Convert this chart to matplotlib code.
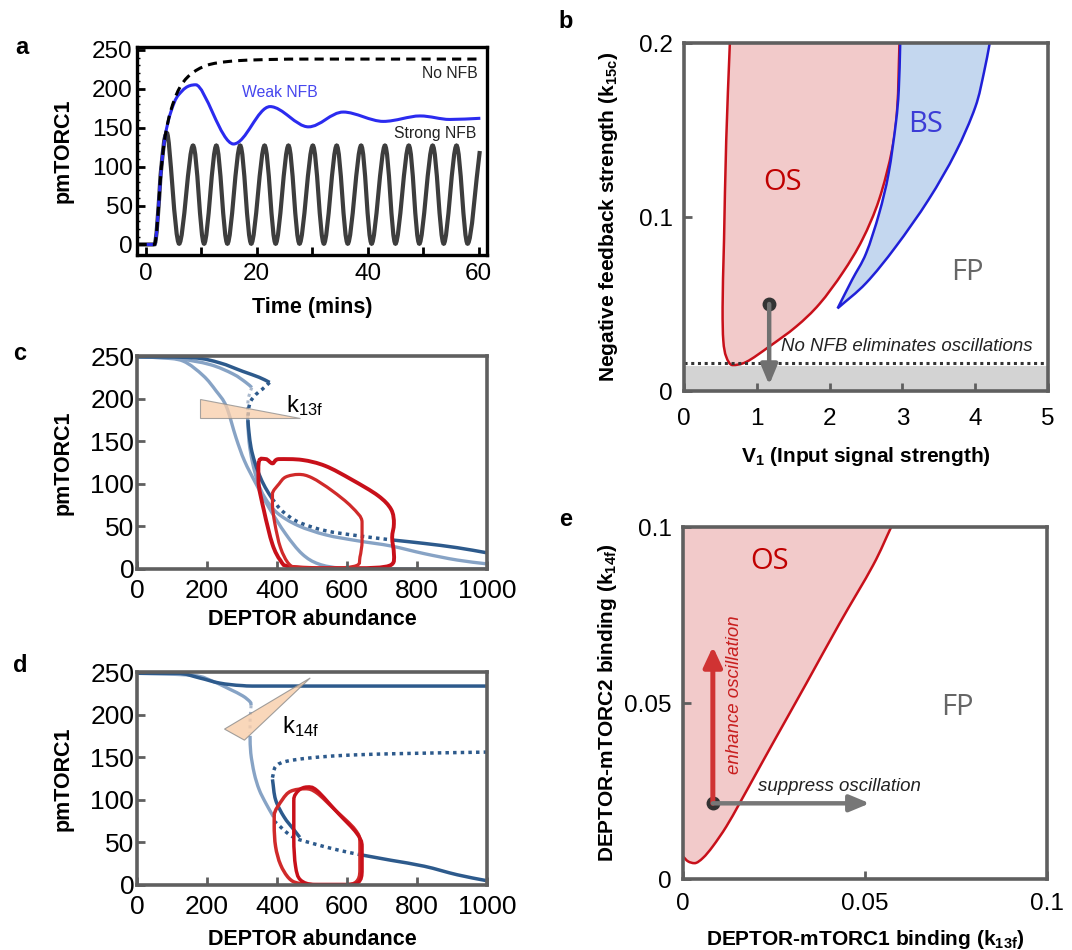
import numpy as np
import matplotlib
matplotlib.use('Agg')
import matplotlib.pyplot as plt
from matplotlib.path import Path
from matplotlib.patches import PathPatch, Polygon
from matplotlib import font_manager

plt.rcParams['font.family'] = 'Liberation Sans'
plt.rcParams['mathtext.fontset'] = 'custom'
plt.rcParams['mathtext.rm'] = 'Liberation Sans'
plt.rcParams['mathtext.it'] = 'Liberation Sans:italic'
plt.rcParams['mathtext.bf'] = 'Liberation Sans:bold'

names = {f.name for f in font_manager.fontManager.ttflist}
NARROW = 'Liberation Sans Narrow' if 'Liberation Sans Narrow' in names else 'Liberation Sans'
NS = 1.0 if NARROW == 'Liberation Sans Narrow' else 0.84

# ---------------- panel a : time courses
strong_t = [-1.5, 1.2, 1.8, 2.3, 2.8, 3.8, 6.0, 8.5, 10.5, 12.7, 14.7, 17.0, 19.0, 21.4, 23.4, 25.7,
            27.7, 30.1, 32.1, 34.4, 36.4, 38.8, 40.7, 43.1, 45.0, 47.4, 49.3, 51.7, 53.7, 56.0, 58.0, 60.2]
strong_y = [0, 0, 8, 50, 100, 143, 1, 127, 1, 127, 1, 127, 1, 127, 1, 127,
            1, 127, 1, 127, 1, 127, 1, 127, 1, 127, 1, 127, 1, 127, 1, 120]
weak_t = [-1.5, 1.2, 1.8, 2.3, 2.8, 3.5, 4.5, 6.0, 9.0, 15.8, 22.4, 29.3, 35.6, 42.8, 49.4, 54.8, 60.3]
weak_y = [0, 0, 8, 50, 100, 140, 170, 193, 205, 129, 177, 151, 170, 158, 165, 160.5, 162]
nonfb_t = [-1.5, 1.2, 1.8, 2.3, 2.8, 3.5, 4.5, 6.0, 8.0, 11.0, 15.0, 20.0, 30.0, 60.3]
nonfb_y = [0, 0, 8, 50, 100, 140, 172, 200, 218, 230, 235, 237, 238, 238]

# ---------------- panel c : bifurcation vs DEPTOR (k13f)
c_dark_up_x = [0, 160, 236, 302, 349, 379]
c_dark_up_y = [249, 248, 242, 232, 225, 219]
c_dark_fold_x = [379, 358, 340, 325, 319, 317]
c_dark_fold_y = [219, 211, 205, 197, 188, 174]
c_dark_mid_x = [317, 320, 326, 336, 349, 366, 387]
c_dark_mid_y = [174, 160, 142, 126, 111, 96, 82]
c_dark_hopf_x = [387, 415, 462, 538, 632, 731]
c_dark_hopf_y = [82, 68, 55, 45, 39, 34]
c_dark_tail_x = [731, 821, 915, 1000]
c_dark_tail_y = [34, 30, 25, 19]
c_light_up_x = [0, 113, 208, 274, 311, 328]
c_light_up_y = [249, 247, 240, 229, 219, 213]
c_light_fold_x = [328, 319, 316, 316]
c_light_fold_y = [213, 202, 189, 178]
c_light_low_x = [316, 320, 330, 345, 365, 400, 460, 540, 632, 726, 821, 915, 1000]
c_light_low_y = [178, 150, 125, 102, 84, 66, 51, 40, 33, 27, 18, 10.5, 6]
c_mono_x = [0, 66, 132, 189, 226, 255, 283, 307, 340, 377, 425, 472, 519, 585, 700, 1000]
c_mono_y = [249, 248, 244, 227, 209, 191, 154, 127, 100, 72, 41, 17.6, 5.9, 1, 0.3, 0]
c_outer_x = [349, 368, 387, 406, 472, 538, 613, 689, 726, 734, 729, 734, 722, 632, 538, 434, 410, 387, 363, 347]
c_outer_y = [127, 129, 124, 129, 128, 121, 105, 86, 70, 53, 37, 18, 4, 1, 1, 3, 10, 29, 68, 104]
c_inner_x = [387, 406, 425, 462, 500, 557, 613, 643, 643, 637, 627, 557, 462, 434, 410, 394, 387]
c_inner_y = [88, 100, 108, 111, 107, 92, 73, 55, 33, 14, 4, 1, 2, 6, 25, 53, 76]
c_wedge_x = [179, 179, 467]
c_wedge_y = [199, 177, 177]

# ---------------- panel d : bifurcation vs DEPTOR (k14f)
d_dark_up_x = [0, 113, 179, 236, 302, 396, 1000]
d_dark_up_y = [248.5, 248.5, 243, 237, 234, 233.5, 233.5]
d_light_up_x = [0, 160, 217, 264, 302, 323, 326]
d_light_up_y = [248.5, 246, 239, 230, 222, 215, 211]
d_light_fold_x = [326, 324, 323, 323]
d_light_fold_y = [211, 200, 190, 179]
d_light_low_x = [323, 325, 335, 349, 368, 390]
d_light_low_y = [175, 155, 131, 112, 96, 80]
d_unst_x = [387, 396, 425, 491, 585, 726, 1000]
d_unst_y = [126, 139, 145, 149, 152, 154, 156]
d_dark_low_x = [387, 396, 420, 448, 465]
d_dark_low_y = [124, 100, 80, 65, 56]
d_hopf_x = [392, 443, 500, 575, 632]
d_hopf_y = [75, 57, 49, 41, 36]
d_tail_x = [632, 726, 821, 915, 1000]
d_tail_y = [36, 29, 22, 12, 5]
d_loopA_x = [392, 415, 439, 481, 514, 566, 623, 637, 637, 627, 594, 519, 462, 434, 410, 396, 392]
d_loopA_y = [82, 100, 110, 113, 108, 88, 65, 49, 18, 4, 0.5, 0.5, 2, 8, 24, 45, 69]
d_loopB_x = [448, 462, 486, 514, 575, 627, 643, 643, 632, 585, 509, 467, 453, 448, 448]
d_loopB_y = [100, 111, 115, 111, 84, 61, 45, 18, 3, 0.5, 0.5, 6, 22, 53, 80]
d_wedge_x = [250, 495, 307]
d_wedge_y = [183, 243, 170]

# ---------------- panel b : V1 vs k15c
os_b_x = [0.63, 0.58, 0.55, 0.53, 0.54, 0.58, 0.67, 0.86, 1.17, 1.54, 1.86, 2.18, 2.45, 2.68, 2.86, 2.93, 2.96]
os_b_y = [0.2, 0.144, 0.087, 0.048, 0.029, 0.0197, 0.0149, 0.0168, 0.0255, 0.037, 0.050, 0.068, 0.087, 0.110, 0.139, 0.163, 0.2]
bs_left_x = [2.97, 2.95, 2.91, 2.81, 2.68, 2.50, 2.31, 2.11]
bs_left_y = [0.2, 0.173, 0.154, 0.125, 0.102, 0.079, 0.064, 0.0475]
bs_right_x = [2.11, 2.50, 2.91, 3.36, 3.73, 4.0, 4.12, 4.2]
bs_right_y = [0.0475, 0.062, 0.083, 0.110, 0.137, 0.163, 0.183, 0.2]
nfb_band = 0.0145
nfb_line = 0.0161
b_dot = (1.17, 0.050)
b_arrow_end = 0.0035

# ---------------- panel e : k13f vs k14f
os_e_x = [0, 0.0014, 0.0032, 0.0055, 0.0082, 0.0119, 0.0156, 0.0201, 0.0247, 0.0339, 0.043, 0.0522, 0.0572]
os_e_y = [0.0064, 0.005, 0.0045, 0.006, 0.0093, 0.0149, 0.0216, 0.030, 0.0386, 0.0556, 0.0726, 0.0891, 0.1]
e_dot = (0.0082, 0.0215)
e_up_end = 0.066
e_right_end = 0.0513

DARK = '#2d5a8c'
LIGHT = '#87a3c5'
FAINT = '#a9b8cc'
RED = '#c8101a'
RED2 = '#d02a2a'
FRAME = '#5f5f5f'
DOT = (0, (1, 1.2))

W, H = 1072, 950


def box(l, t, r, b):
    return [l / W, 1 - b / H, (r - l) / W, (b - t) / H]


def bez(xs, ys, closed=False):
    p = np.column_stack([xs, ys]).astype(float)
    n = len(p)
    t = np.zeros_like(p)
    for i in range(n):
        if closed:
            a, b = p[i - 1], p[(i + 1) % n]
        else:
            a, b = p[max(i - 1, 0)], p[min(i + 1, n - 1)]
        if closed or 0 < i < n - 1:
            t[i] = (b - a) / 2
            for k in range(2):
                if (p[i, k] - a[k]) * (b[k] - p[i, k]) <= 0:
                    t[i, k] = 0
        else:
            t[i] = b - a
    verts = [p[0]]
    codes = [Path.MOVETO]
    for i in range(n if closed else n - 1):
        j = (i + 1) % n
        verts += [p[i] + t[i] / 3, p[j] - t[j] / 3, p[j]]
        codes += [Path.CURVE4] * 3
    return verts, codes


def curve(ax, xs, ys, closed=False, **kw):
    v, c = bez(xs, ys, closed)
    kw.setdefault('capstyle', 'butt')
    ax.add_patch(PathPatch(Path(v, c), fill=False, **kw))


def frame(ax, color, lw, size):
    for s in ax.spines.values():
        s.set_color(color)
        s.set_linewidth(lw)
    ax.tick_params(which='both', direction='in', color=color, width=2, length=6,
                   labelsize=size, labelcolor='black')


fig = plt.figure(figsize=(W / 100, H / 100), dpi=100)

# ================= panel a
ax = fig.add_axes(box(137, 47, 487, 255))
ax.set_xlim(-1.6, 61.5)
ax.set_ylim(-13.5, 253.5)
curve(ax, strong_t, strong_y, edgecolor='#3d3d3d', lw=3.0)
curve(ax, weak_t, weak_y, edgecolor='#2b2bef', lw=2.2)
curve(ax, nonfb_t, nonfb_y, edgecolor='black', lw=2.2, linestyle=(0, (3, 2)))
ax.text(54.8, 220, 'No NFB', ha='center', va='center', fontsize=13.5 * NS, family=NARROW, color='#222')
ax.text(24.2, 195, 'Weak NFB', ha='center', va='center', fontsize=13.5 * NS, family=NARROW, color='#4646ee')
ax.text(52.1, 142, 'Strong NFB', ha='center', va='center', fontsize=13.5 * NS, family=NARROW, color='#222')
ax.set_xticks([0, 20, 40, 60])
ax.set_xticks([10, 30, 50], minor=True)
ax.set_yticks([0, 50, 100, 150, 200, 250])
ax.set_yticks(np.arange(10, 250, 10), minor=True)
frame(ax, 'black', 2.4, 17.5)
ax.tick_params(axis='y', which='minor', length=2, width=1)
ax.tick_params(axis='x', pad=6)
ax.tick_params(axis='y', pad=3)
ax.set_xlabel('Time (mins)', fontsize=15.5, fontweight='bold')
ax.set_ylabel('pmTORC1', fontsize=15.5, fontweight='bold')
ax.xaxis.set_label_coords(0.5, -0.2)
ax.yaxis.set_label_coords(-0.18, 0.5)

# ================= panels c and d
for top, bottom, xl in [(356, 569, -0.188), (672, 885, -0.205)]:
    axx = fig.add_axes(box(137, top, 487, bottom))
    axx.set_xlim(0, 1000)
    axx.set_ylim(0, 250)
    axx.set_xticks([0, 200, 400, 600, 800, 1000])
    axx.set_yticks([0, 50, 100, 150, 200, 250])
    frame(axx, FRAME, 2.6, 19)
    axx.tick_params(axis='x', pad=7)
    axx.tick_params(axis='y', pad=2)
    axx.set_xlabel('DEPTOR abundance', fontsize=15.5, fontweight='bold')
    axx.set_ylabel('pmTORC1', fontsize=15.5, fontweight='bold')
    axx.xaxis.set_label_coords(0.5, xl)
    axx.yaxis.set_label_coords(-0.18, 0.5)
    if top == 356:
        ax_c = axx
    else:
        ax_d = axx

ax = ax_c
curve(ax, c_mono_x, c_mono_y, edgecolor=LIGHT, lw=2.4)
curve(ax, c_light_up_x, c_light_up_y, edgecolor=LIGHT, lw=2.4)
curve(ax, c_light_fold_x, c_light_fold_y, edgecolor=FAINT, lw=2.2, linestyle=DOT)
curve(ax, c_light_low_x, c_light_low_y, edgecolor=LIGHT, lw=2.4)
curve(ax, c_dark_up_x, c_dark_up_y, edgecolor=DARK, lw=2.5)
curve(ax, c_dark_fold_x, c_dark_fold_y, edgecolor=DARK, lw=2.5, linestyle=DOT)
curve(ax, c_dark_mid_x, c_dark_mid_y, edgecolor=DARK, lw=2.5)
curve(ax, c_dark_hopf_x, c_dark_hopf_y, edgecolor=DARK, lw=2.5, linestyle=DOT)
curve(ax, c_dark_tail_x, c_dark_tail_y, edgecolor=DARK, lw=2.5)
ax.add_patch(Polygon(np.column_stack([c_wedge_x, c_wedge_y]), closed=True,
                     facecolor='#f8cda9', edgecolor='#8a8a8a', lw=0.8, alpha=0.75))
curve(ax, c_outer_x, c_outer_y, closed=True, edgecolor=RED, lw=2.8)
curve(ax, c_inner_x, c_inner_y, closed=True, edgecolor=RED2, lw=2.3)
ax.text(425, 192, r'k$_{\mathrm{13f}}$', fontsize=17, ha='left', va='center')

ax = ax_d
curve(ax, d_light_up_x, d_light_up_y, edgecolor=LIGHT, lw=2.4)
curve(ax, d_light_fold_x, d_light_fold_y, edgecolor=FAINT, lw=2.2, linestyle=DOT)
curve(ax, d_light_low_x, d_light_low_y, edgecolor=LIGHT, lw=2.4)
curve(ax, d_dark_up_x, d_dark_up_y, edgecolor=DARK, lw=2.5)
curve(ax, d_unst_x, d_unst_y, edgecolor=DARK, lw=2.5, linestyle=DOT)
curve(ax, d_dark_low_x, d_dark_low_y, edgecolor=DARK, lw=2.5)
curve(ax, d_hopf_x, d_hopf_y, edgecolor=DARK, lw=2.5, linestyle=DOT)
curve(ax, d_tail_x, d_tail_y, edgecolor=DARK, lw=2.5)
ax.add_patch(Polygon(np.column_stack([d_wedge_x, d_wedge_y]), closed=True,
                     facecolor='#f8cda9', edgecolor='#8a8a8a', lw=0.8, alpha=0.8))
curve(ax, d_loopA_x, d_loopA_y, closed=True, edgecolor=RED2, lw=2.5)
curve(ax, d_loopB_x, d_loopB_y, closed=True, edgecolor=RED, lw=2.5)
ax.text(415, 186, r'k$_{\mathrm{14f}}$', fontsize=17, ha='left', va='center')

# ================= panel b
ax = fig.add_axes(box(684, 43, 1048, 391))
ax.set_xlim(0, 5)
ax.set_ylim(0, 0.2)
ax.axhspan(0, nfb_band, color='#d3d3d3', lw=0, zorder=0)
ax.axhline(nfb_line, color='#333333', lw=2.2, linestyle=DOT)
v, c = bez(os_b_x, os_b_y)
ax.add_patch(PathPatch(Path(v, c), facecolor='#f2caca', edgecolor='none'))
curve(ax, os_b_x, os_b_y, edgecolor=RED, lw=1.8)
v1, c1 = bez(bs_left_x, bs_left_y)
v2, c2 = bez(bs_right_x, bs_right_y)
bs_path = Path(v1 + v2[1:], c1 + c2[1:])
ax.add_patch(PathPatch(bs_path, facecolor='#c4d7ef', edgecolor='none'))
ax.add_patch(PathPatch(bs_path, fill=False, edgecolor='#2020d8', lw=1.8))
ax.annotate('', xy=(b_dot[0], b_arrow_end), xytext=b_dot,
            arrowprops=dict(arrowstyle='-|>,head_length=0.6,head_width=0.25', color='#707070',
                            lw=3.2, mutation_scale=20, shrinkA=0, shrinkB=0))
ax.plot(*b_dot, 'o', color='#333333', ms=9)
ax.text(1.33, 0.0255, 'No NFB eliminates oscillations', fontsize=16 * NS, family=NARROW,
        style='italic', ha='left', va='center', color='#222')
ax.text(1.36, 0.120, 'OS', fontsize=21, family='Open Sans', color='#c00000', ha='center', va='center')
ax.text(3.32, 0.153, 'BS', fontsize=21, family='Open Sans', color='#3c3cd6', ha='center', va='center')
ax.text(3.89, 0.068, 'FP', fontsize=21, family='Open Sans', color='#666666', ha='center', va='center')
ax.set_xticks([0, 1, 2, 3, 4, 5])
ax.set_yticks([0, 0.1, 0.2], ['0', '0.1', '0.2'])
frame(ax, FRAME, 2.6, 17.5)
ax.tick_params(axis='x', pad=12)
ax.tick_params(axis='y', pad=8)
ax.set_xlabel(r'V$_{\mathbf{1}}$ (Input signal strength)', fontsize=15, fontweight='bold')
ax.set_ylabel(r'Negative feedback strength (k$_{\mathbf{15c}}$)', fontsize=15, fontweight='bold')
ax.xaxis.set_label_coords(0.5, -0.155)
ax.yaxis.set_label_coords(-0.176, 0.5)

# ================= panel e
ax = fig.add_axes(box(683, 527, 1047, 879))
ax.set_xlim(0, 0.1)
ax.set_ylim(0, 0.1)
v, c = bez(os_e_x, os_e_y)
v = v + [(0, 0.1), v[0]]
c = c + [Path.LINETO, Path.CLOSEPOLY]
ax.add_patch(PathPatch(Path(v, c), facecolor='#f2caca', edgecolor='none'))
curve(ax, os_e_x, os_e_y, edgecolor=RED, lw=1.8)
ax.annotate('', xy=(e_dot[0], e_up_end), xytext=e_dot,
            arrowprops=dict(arrowstyle='-|>,head_length=0.6,head_width=0.28', color='#d03333',
                            lw=3.6, mutation_scale=20, shrinkA=0, shrinkB=0))
ax.annotate('', xy=(e_right_end, e_dot[1]), xytext=e_dot,
            arrowprops=dict(arrowstyle='-|>,head_length=0.6,head_width=0.25', color='#777777',
                            lw=3.2, mutation_scale=20, shrinkA=0, shrinkB=0))
ax.plot(*e_dot, 'o', color='#333333', ms=9)
ax.text(0.0142, 0.0524, 'enhance oscillation', rotation=90, fontsize=16 * NS, family=NARROW,
        style='italic', color='#c81e1e', ha='center', va='center')
ax.text(0.043, 0.0263, 'suppress oscillation', fontsize=16 * NS, family=NARROW,
        style='italic', color='#222', ha='center', va='center')
ax.text(0.0238, 0.0902, 'OS', fontsize=21, family='Open Sans', color='#c00000', ha='center', va='center')
ax.text(0.0755, 0.0488, 'FP', fontsize=21, family='Open Sans', color='#666666', ha='center', va='center')
ax.set_xticks([0, 0.05, 0.1], ['0', '0.05', '0.1'])
ax.set_yticks([0, 0.05, 0.1], ['0', '0.05', '0.1'])
frame(ax, FRAME, 2.6, 17.5)
ax.tick_params(axis='x', pad=10)
ax.tick_params(axis='y', pad=8)
ax.set_xlabel(r'DEPTOR-mTORC1 binding (k$_{\mathbf{13f}}$)', fontsize=15, fontweight='bold')
ax.set_ylabel(r'DEPTOR-mTORC2 binding (k$_{\mathbf{14f}}$)', fontsize=15, fontweight='bold')
ax.xaxis.set_label_coords(0.5, -0.139)
ax.yaxis.set_label_coords(-0.176, 0.5)

# panel letters
for letter, px, py in [('a', 22, 47), ('b', 566, 22), ('c', 20, 354), ('d', 20, 665), ('e', 566, 520)]:
    fig.text(px / W, 1 - py / H, letter, fontsize=17, fontweight='bold', ha='center', va='center')

fig.savefig('out.png', dpi=100)
